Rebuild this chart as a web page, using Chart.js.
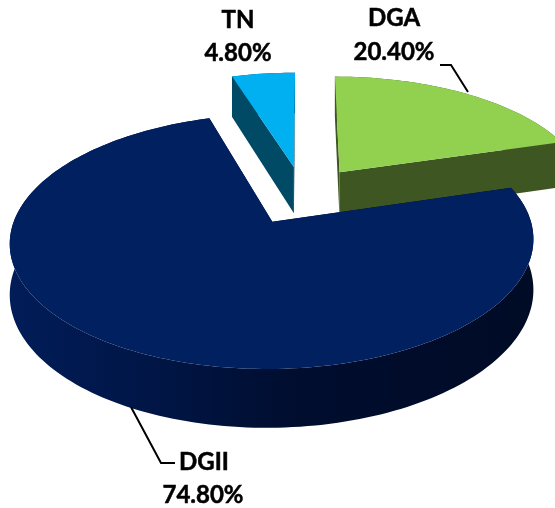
<!DOCTYPE html>
<html>
<head>
<meta charset="utf-8">
<title>Pie</title>
<script src="https://cdn.jsdelivr.net/npm/chart.js@4/dist/chart.umd.min.js"></script>
<style>
  html, body { margin: 0; padding: 0; background: #fff; }
  canvas { display: block; }
</style>
</head>
<body>
<canvas id="pie-chart" width="555" height="508"></canvas>
<script>
const categories = ['DGA', 'DGII', 'TN'];
const shares = [20.4, 74.8, 4.8];
const topColours = ['#92D050', '#002060', '#00B0F0'];
const sideColours = ['#3E5622', '#00113A', '#014A66'];

// fake 3D: the arcs are laid out by Chart.js, the plugin only projects them
const TILT = 0.465;
const PERSPECTIVE = 0.0006;
const DEPTH = 48;
const RADIUS = 250;
const EXPLODE = 63;

function project(arc, u, d, h) {
  const s = 1 / (1 - d * PERSPECTIVE);
  return [arc.x + u * s, arc.y + (d * TILT + h) * s];
}

function slicePoints(arc) {
  const mid = (arc.startAngle + arc.endAngle) / 2;
  const ox = Math.cos(mid) * arc.options.offset;
  const oy = Math.sin(mid) * arc.options.offset;
  const rim = [];
  const steps = Math.ceil((arc.endAngle - arc.startAngle) * 40);
  for (let i = 0; i <= steps; i++) {
    const a = arc.startAngle + (arc.endAngle - arc.startAngle) * i / steps;
    rim.push([ox + Math.cos(a) * arc.outerRadius, oy + Math.sin(a) * arc.outerRadius]);
  }
  return { apex: [ox, oy], rim };
}

function fillPath(ctx, pts, fill) {
  ctx.beginPath();
  pts.forEach((p, i) => (i ? ctx.lineTo(p[0], p[1]) : ctx.moveTo(p[0], p[1])));
  ctx.closePath();
  ctx.fillStyle = fill;
  ctx.fill();
}

function sideFill(ctx, i) {
  if (categories[i] !== 'DGII') return sideColours[i];
  const g = ctx.createLinearGradient(10, 0, 535, 0);
  g.addColorStop(0, '#011C58');
  g.addColorStop(0.3, '#001544');
  g.addColorStop(0.55, '#000D2E');
  g.addColorStop(1, '#000B26');
  return g;
}

const pie3d = {
  id: 'pie3d',
  beforeDatasetsDraw(chart) {
    const ctx = chart.ctx;
    const arcs = chart.getDatasetMeta(0).data.map((arc, i) => ({ arc, i }));
    arcs.sort((a, b) => Math.sin((a.arc.startAngle + a.arc.endAngle) / 2) - Math.sin((b.arc.startAngle + b.arc.endAngle) / 2));
    arcs.forEach(({ arc, i }) => {
      const { apex, rim } = slicePoints(arc);
      const low = (p) => project(arc, p[0], p[1], DEPTH);
      const high = (p) => project(arc, p[0], p[1], 0);
      const side = sideFill(ctx, i);
      // radial walls then outer wall, the hidden ones end up under the top face
      fillPath(ctx, [high(apex), high(rim[0]), low(rim[0]), low(apex)], side);
      fillPath(ctx, [high(apex), high(rim[rim.length - 1]), low(rim[rim.length - 1]), low(apex)], side);
      fillPath(ctx, rim.map(high).concat(rim.map(low).reverse()), side);
      fillPath(ctx, [high(apex)].concat(rim.map(high)), topColours[i]);
    });
    return false;
  },
  afterDraw(chart) {
    const ctx = chart.ctx;
    ctx.strokeStyle = '#000';
    ctx.lineWidth = 2;
    [[[440, 65], [451, 65], [468, 92]], [[131, 407], [161, 463], [175, 463]]].forEach(line => {
      ctx.beginPath();
      line.forEach((p, i) => (i ? ctx.lineTo(p[0], p[1]) : ctx.moveTo(p[0], p[1])));
      ctx.stroke();
    });
    ctx.fillStyle = '#000';
    ctx.strokeStyle = '#000';
    ctx.lineWidth = 0.5;
    ctx.font = 'bold 24px Lato';
    ctx.textAlign = 'center';
    ctx.textBaseline = 'middle';
    const spots = { DGA: [394, 18, 394, 52], DGII: [204, 462, 203, 495], TN: [238, 20, 238, 53] };
    categories.forEach((c, i) => {
      const s = spots[c];
      const pct = shares[i].toFixed(2) + '%';
      ctx.fillText(c, s[0], s[1]);
      ctx.strokeText(c, s[0], s[1]);
      ctx.fillText(pct, s[2], s[3]);
      ctx.strokeText(pct, s[2], s[3]);
    });
  }
};

new Chart(document.getElementById('pie-chart').getContext('2d'), {
  type: 'pie',
  data: {
    labels: categories,
    datasets: [{ data: shares, backgroundColor: topColours, borderWidth: 0, offset: EXPLODE, radius: RADIUS }]
  },
  options: {
    responsive: false,
    animation: false,
    devicePixelRatio: 1,
    // puts the pie centre at 303,195
    layout: { padding: { left: 51, bottom: 118 } },
    plugins: { legend: { display: false }, tooltip: { enabled: false } }
  },
  plugins: [pie3d]
});
</script>
</body>
</html>
